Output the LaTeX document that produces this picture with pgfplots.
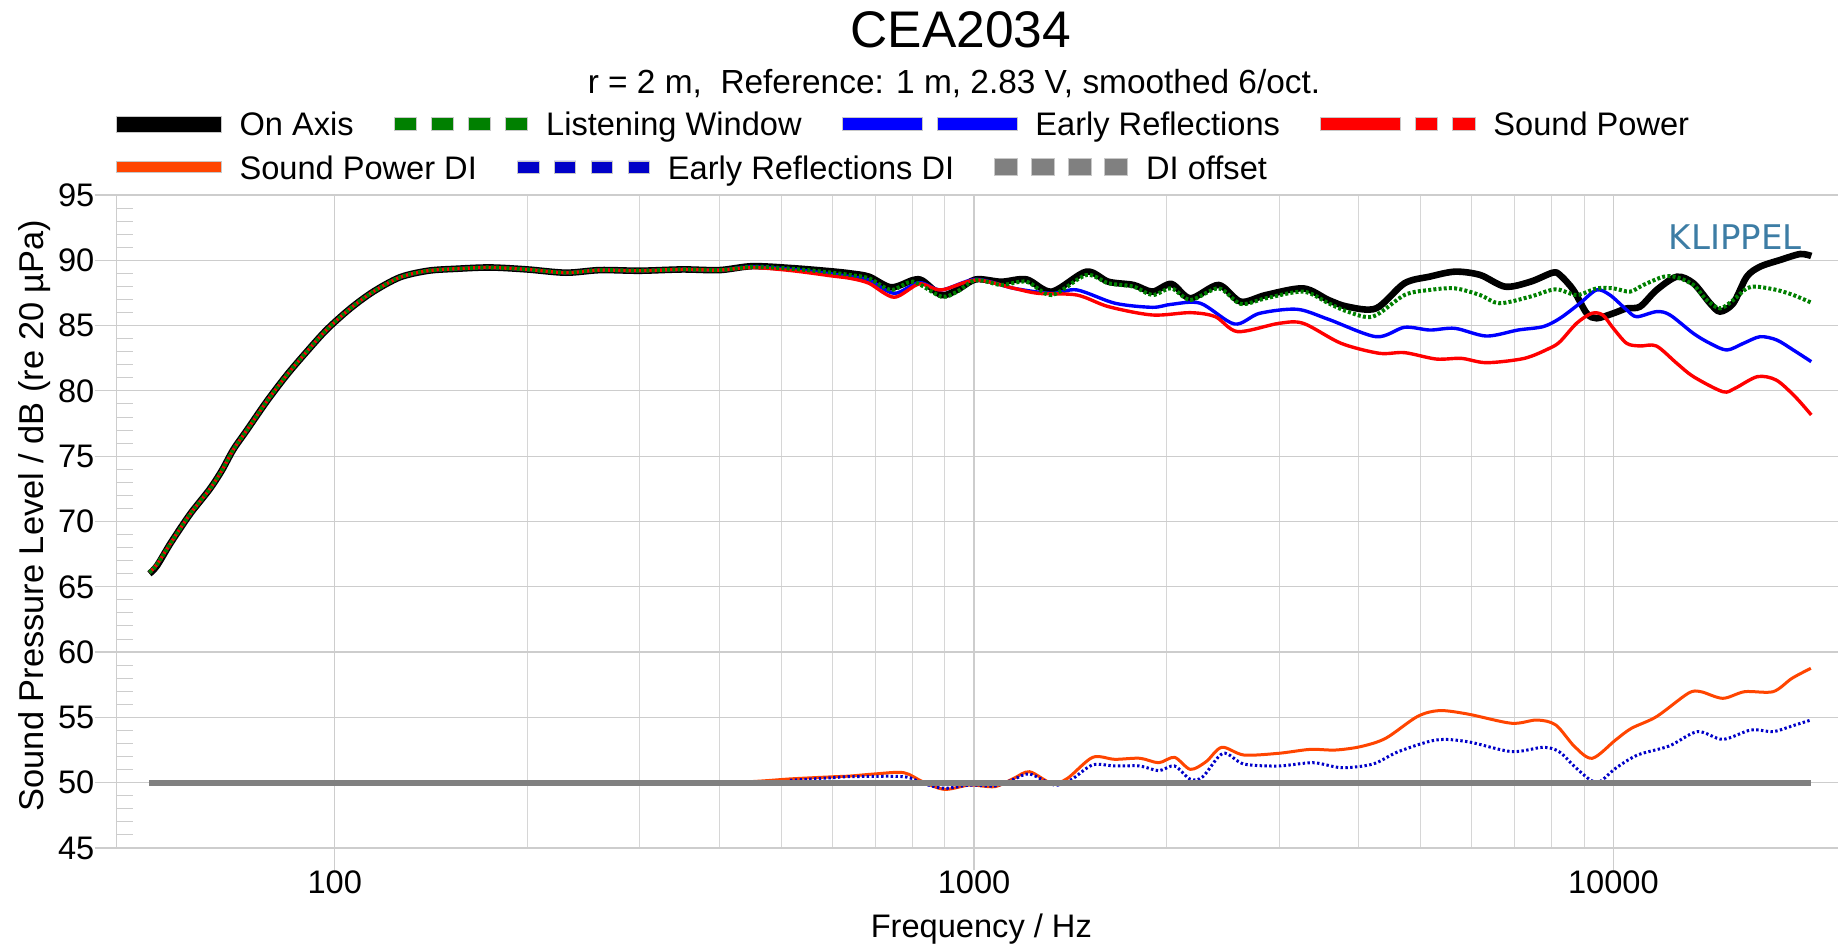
\documentclass[border=0pt]{standalone}
\usepackage{pgfplots}
\pgfplotsset{compat=1.18}
\usepackage{fontspec}
\setmainfont{Liberation Sans}
\newfontfamily\klfont{DejaVu Sans}
\definecolor{lwgreen}{RGB}{0,128,0}
\definecolor{erblue}{RGB}{0,0,255}
\definecolor{spred}{RGB}{255,0,0}
\definecolor{spdi}{RGB}{255,69,0}
\definecolor{erdi}{RGB}{0,0,200}
\definecolor{dioff}{RGB}{128,128,128}
\definecolor{gridc}{RGB}{205,205,205}
\definecolor{gridm}{RGB}{214,214,214}
\definecolor{swb}{RGB}{200,200,200}
\definecolor{klip}{RGB}{61,125,165}

\begin{document}
\begin{tikzpicture}
\useasboundingbox (0,0) rectangle (919pt,474pt);
\fill[white] (0,0) rectangle (919pt,474pt);

% ---------- main axis: SPL curves ----------
\begin{axis}[xmode=log, scale only axis, width=860.65pt, height=326.5pt,
  at={(58.35pt,50pt)}, anchor=south west,
  xmin=45.6, xmax=22464, ymin=45, ymax=95,
  legend columns=-1, legend cell align=left,
  legend style={draw=none, fill=none, inner sep=0pt, outer sep=0pt,
      font=\fontsize{16.3}{19}\selectfont,
      nodes={inner sep=0pt, text height=11.7pt, text depth=0pt},
      /tikz/every odd column/.append style={column sep=9pt},
      /tikz/every even column/.append style={column sep=20pt},
      anchor=north west, at={(-0.00058,1.12634)}},
  axis lines*=left, axis line style={gridc, line width=0.6pt},
  xtick={100,1000,10000}, xticklabels={100,1000,10000},
  ytick={45,50,...,95}, yticklabels={45,50,55,60,65,70,75,80,85,90,95},
  xmajorgrids, xminorgrids, ymajorgrids,
  major grid style={gridc, line width=0.6pt},
  minor grid style={gridm, line width=0.5pt},
  tick align=outside, major tick length=11pt, minor tick length=0pt,
  tick style={gridc, line width=0.6pt},
  ticklabel style={font=\fontsize{16.3}{19}\selectfont, inner sep=0pt},
  xlabel={Frequency / Hz},
  xlabel style={at={(axis description cs:0.5023,-0.1378)}, anchor=base, inner sep=0pt, font=\fontsize{16.3}{19}\selectfont},
  ylabel={Sound Pressure Level / dB (re 20 µPa)},
  ylabel style={at={(axis description cs:-0.04282,0.5092)}, anchor=base, inner sep=0pt, font=\fontsize{17.2}{20}\selectfont},
]
\addlegendimage{legend image code/.code={\filldraw[solid, fill=black, draw=swb, line width=0.4pt] (0pt,-4pt) rectangle (52.5pt,4pt);}}
\addlegendentry{On Axis}
\addlegendimage{legend image code/.code={\filldraw[solid, fill=lwgreen, draw=swb, line width=0.4pt] (0pt,-3.2pt) rectangle (11.35pt,3.2pt) (18.5pt,-3.2pt) rectangle (29.85pt,3.2pt) (37pt,-3.2pt) rectangle (48.35pt,3.2pt) (55.5pt,-3.2pt) rectangle (66.85pt,3.2pt);}}
\addlegendentry{Listening Window}
\addlegendimage{legend image code/.code={\filldraw[solid, fill=erblue, draw=swb, line width=0.4pt] (0pt,-3.2pt) rectangle (40pt,3.2pt) (47.5pt,-3.2pt) rectangle (87.5pt,3.2pt);}}
\addlegendentry{Early Reflections}
\addlegendimage{legend image code/.code={\filldraw[solid, fill=spred, draw=swb, line width=0.4pt] (0pt,-3.2pt) rectangle (40pt,3.2pt) (47.4pt,-3.2pt) rectangle (58.7pt,3.2pt) (66pt,-3.2pt) rectangle (77.3pt,3.2pt);}}
\addlegendentry{Sound Power}

% On Axis
\addplot[black, line width=3.3pt, smooth, forget plot] table {
51.3 66.0
52.7 66.6
55.3 68.3
58.3 70.0
60.1 70.9
63.8 72.5
66.6 73.9
69.4 75.5
72.9 77.0
78.3 79.2
84.1 81.2
90.4 83.0
97.2 84.7
105.7 86.3
114.9 87.6
126.5 88.7
140 89.2
155 89.35
175 89.45
200 89.3
230 89.05
260 89.25
300 89.2
350 89.3
400 89.25
450 89.55
520 89.4
600 89.15
640 89.0
685 88.75
742 87.93
803 88.49
831 88.44
889 87.34
941 87.73
1007 88.54
1103 88.36
1208 88.54
1323 87.6
1498 89.13
1623 88.36
1777 88.11
1902 87.6
2036 88.19
2180 87.09
2413 88.11
2613 86.83
2861 87.34
3275 87.85
3585 86.96
3840 86.45
4256 86.32
4714 88.24
5162 88.75
5653 89.13
6188 88.88
6777 87.98
7422 88.36
8035 89.05
8253 88.87
8659 87.73
9086 85.94
9419 85.56
10000 85.94
10495 86.32
11010 86.45
11690 87.73
12570 88.74
13345 88.24
14166 86.71
14690 86.07
15407 86.71
16170 88.74
16967 89.51
18229 90.02
19598 90.48
20400 90.33
};

% Early Reflections
\addplot[erblue, line width=1.7pt, smooth, forget plot] table {
51.3 66.1
52.7 66.7
55.3 68.3
58.3 70.0
60.1 70.9
63.8 72.5
66.6 73.9
69.4 75.5
72.9 77.0
78.3 79.2
84.1 81.2
90.4 83.0
97.2 84.7
105.7 86.3
114.9 87.6
126.5 88.7
140 89.2
155 89.35
175 89.45
200 89.3
230 89.05
260 89.25
300 89.2
350 89.3
400 89.25
450 89.5
520 89.3
600 88.95
640 88.75
685 88.49
750 87.47
821 88.29
889 87.73
1007 88.54
1155 87.85
1323 87.47
1449 87.73
1662 86.71
1902 86.4
2036 86.63
2260 86.71
2555 85.12
2797 85.94
3201 86.25
3585 85.48
4256 84.15
4714 84.87
5162 84.66
5653 84.79
6334 84.2
7094 84.66
7766 84.92
8253 85.56
8868 86.71
9419 87.73
9880 87.34
10495 86.2
10878 85.68
11690 86.07
12267 85.81
13345 84.4
14166 83.64
15048 83.13
15976 83.64
16967 84.15
18010 83.9
19124 83.13
20400 82.24
};

% Sound Power
\addplot[spred, line width=1.7pt, smooth, forget plot] table {
51.3 66.1
52.7 66.7
55.3 68.3
58.3 70.0
60.1 70.9
63.8 72.5
66.6 73.9
69.4 75.5
72.9 77.0
78.3 79.2
84.1 81.2
90.4 83.0
97.2 84.7
105.7 86.3
114.9 87.6
126.5 88.7
140 89.2
155 89.35
175 89.45
200 89.3
230 89.05
260 89.25
300 89.2
350 89.3
400 89.25
450 89.45
520 89.2
600 88.8
640 88.62
685 88.24
750 87.17
821 88.19
889 87.73
1007 88.49
1155 87.85
1260 87.47
1449 87.34
1623 86.45
1902 85.81
2180 85.99
2385 85.68
2584 84.54
2997 85.17
3275 85.17
3753 83.64
4304 82.88
4714 82.93
5283 82.44
5786 82.49
6334 82.16
7259 82.49
7946 83.26
8253 83.77
8763 85.18
9254 85.94
9624 85.81
10000 84.79
10495 83.64
11010 83.44
11676 83.44
12570 82.11
13345 81.09
14834 79.94
15500 80.2
16804 81.09
17981 80.83
19248 79.56
20400 78.16
};

% Listening Window
\addplot[lwgreen, line width=2pt, dash pattern=on 1.5pt off 1.1pt, smooth, forget plot] table {
51.3 66.1
52.7 66.7
55.3 68.3
58.3 70.0
60.1 70.9
63.8 72.5
66.6 73.9
69.4 75.5
72.9 77.0
78.3 79.2
84.1 81.2
90.4 83.0
97.2 84.7
105.7 86.3
114.9 87.6
126.5 88.7
140 89.2
155 89.35
175 89.45
200 89.3
230 89.05
260 89.25
300 89.2
350 89.3
400 89.25
450 89.5
520 89.35
600 89.05
640 88.87
685 88.62
742 87.73
803 88.36
889 87.22
941 87.6
1007 88.49
1103 88.11
1208 88.36
1323 87.34
1498 88.87
1623 88.24
1777 87.98
1902 87.34
2036 87.85
2180 86.96
2413 87.85
2613 86.66
2861 87.09
3275 87.6
3585 86.71
3840 86.07
4208 85.69
4714 87.34
5162 87.73
5653 87.85
6188 87.34
6634 86.71
7422 87.22
8126 87.78
8763 87.34
9419 87.85
10000 87.85
10622 87.6
11143 88.11
11977 88.74
12570 88.7
13345 88.11
13998 86.96
14690 86.32
15407 86.96
16170 87.85
16765 87.98
18010 87.73
19124 87.34
20400 86.76
};
\end{axis}

% ---------- second axis: DI curves ----------
\begin{axis}[xmode=log, scale only axis, width=860.65pt, height=326.5pt,
  at={(58.35pt,50pt)}, anchor=south west,
  xmin=45.6, xmax=22464, ymin=45, ymax=95, hide axis,
  legend columns=-1, legend cell align=left,
  legend style={draw=none, fill=none, inner sep=0pt, outer sep=0pt,
      font=\fontsize{16.3}{19}\selectfont,
      nodes={inner sep=0pt, text height=11.7pt, text depth=0pt},
      /tikz/every odd column/.append style={column sep=9pt},
      /tikz/every even column/.append style={column sep=20pt},
      anchor=north west, at={(-0.00058,1.0603)}},
]
\addlegendimage{legend image code/.code={\filldraw[solid, fill=spdi, draw=swb, line width=0.4pt] (0pt,-2.75pt) rectangle (52.5pt,2.75pt);}}
\addlegendentry{Sound Power DI}
\addlegendimage{legend image code/.code={\filldraw[solid, fill=erdi, draw=swb, line width=0.4pt] (0pt,-3.2pt) rectangle (10.8pt,3.2pt) (18.45pt,-3.2pt) rectangle (29.25pt,3.2pt) (36.9pt,-3.2pt) rectangle (47.7pt,3.2pt) (55.35pt,-3.2pt) rectangle (66.15pt,3.2pt);}}
\addlegendentry{Early Reflections DI}
\addlegendimage{legend image code/.code={\filldraw[solid, fill=dioff, draw=swb, line width=0.4pt] (0pt,-4.25pt) rectangle (11.5pt,4.25pt) (18.35pt,-4.25pt) rectangle (29.85pt,4.25pt) (36.7pt,-4.25pt) rectangle (48.2pt,4.25pt) (55.05pt,-4.25pt) rectangle (66.55pt,4.25pt);}}
\addlegendentry{DI offset}

\addplot[spdi, line width=1.5pt, smooth, forget plot] table {
51.3 50.0
100 50.0
200 50.0
300 50.0
430 50.05
520 50.3
600 50.45
640 50.51
700 50.67
776 50.77
831 50.08
899 49.49
985 49.82
1078 49.7
1154 50.33
1221 50.84
1323 49.95
1400 50.33
1533 51.94
1660 51.79
1817 51.87
1945 51.53
2059 51.94
2180 51.02
2307 51.61
2441 52.71
2643 52.12
2995 52.25
3355 52.55
3673 52.5
4022 52.76
4405 53.4
4935 55.06
5341 55.52
5916 55.26
6934 54.55
7594 54.8
8128 54.42
8700 52.76
9270 51.87
10081 53.27
10671 54.16
11684 55.06
13091 56.84
13698 56.97
14834 56.46
16056 56.97
17782 56.97
19031 57.99
20371 58.76
};
\addplot[erdi, line width=1.5pt, dash pattern=on 1.2pt off 1.2pt, smooth, forget plot] table {
51.3 49.9
56 49.95
60 50.0
430 50.0
520 50.2
600 50.38
640 50.46
776 50.46
831 49.95
899 49.57
985 49.82
1078 49.75
1154 50.26
1221 50.67
1336 49.82
1417 50.21
1533 51.36
1660 51.28
1817 51.28
1945 50.92
2059 51.28
2180 50.26
2280 50.46
2452 52.25
2643 51.43
2995 51.28
3393 51.53
3759 51.15
4208 51.43
4612 52.38
5283 53.27
5916 53.14
6934 52.38
7766 52.71
8222 52.38
8700 51.23
9206 50.21
9526 50.08
10081 51.1
10915 52.12
12228 52.81
13543 53.91
14834 53.32
16428 54.04
17782 53.91
19031 54.34
20371 54.8
};
\addplot[dioff, line width=3pt, forget plot] table {
51.3 50
20371 50
};
\end{axis}

% ---------- strip axis: inner minor y ticks ----------
\begin{axis}[scale only axis, width=8pt, height=326.5pt, at={(58.35pt,50pt)}, anchor=south west,
  xmin=0, xmax=1, ymin=45, ymax=95, ytick={45,50,...,95}, minor y tick num=4, xtick=\empty,
  yticklabels={}, ymajorgrids, yminorgrids,
  major grid style={gridc, line width=0.5pt}, minor grid style={gridc, line width=0.5pt},
  axis line style={draw=none}, major tick length=0pt, minor tick length=0pt]
\addplot[draw=none] coordinates {(0.5,50)};
\end{axis}

\node[anchor=base, inner sep=0pt, font=\fontsize{25.75}{30}\selectfont] at (480.5pt,450pt) {CEA2034};
\node[anchor=base, inner sep=0pt, font=\fontsize{16.7}{19}\selectfont] at (477pt,427pt) {r = 2 m,\ \ Reference: 1 m, 2.83 V, smoothed 6/oct.};
\node[anchor=base east, inner sep=0pt, text=klip, font=\klfont\fontsize{17}{20}\selectfont] at (901pt,349pt) {KLIPPEL};
\end{tikzpicture}
\end{document}
